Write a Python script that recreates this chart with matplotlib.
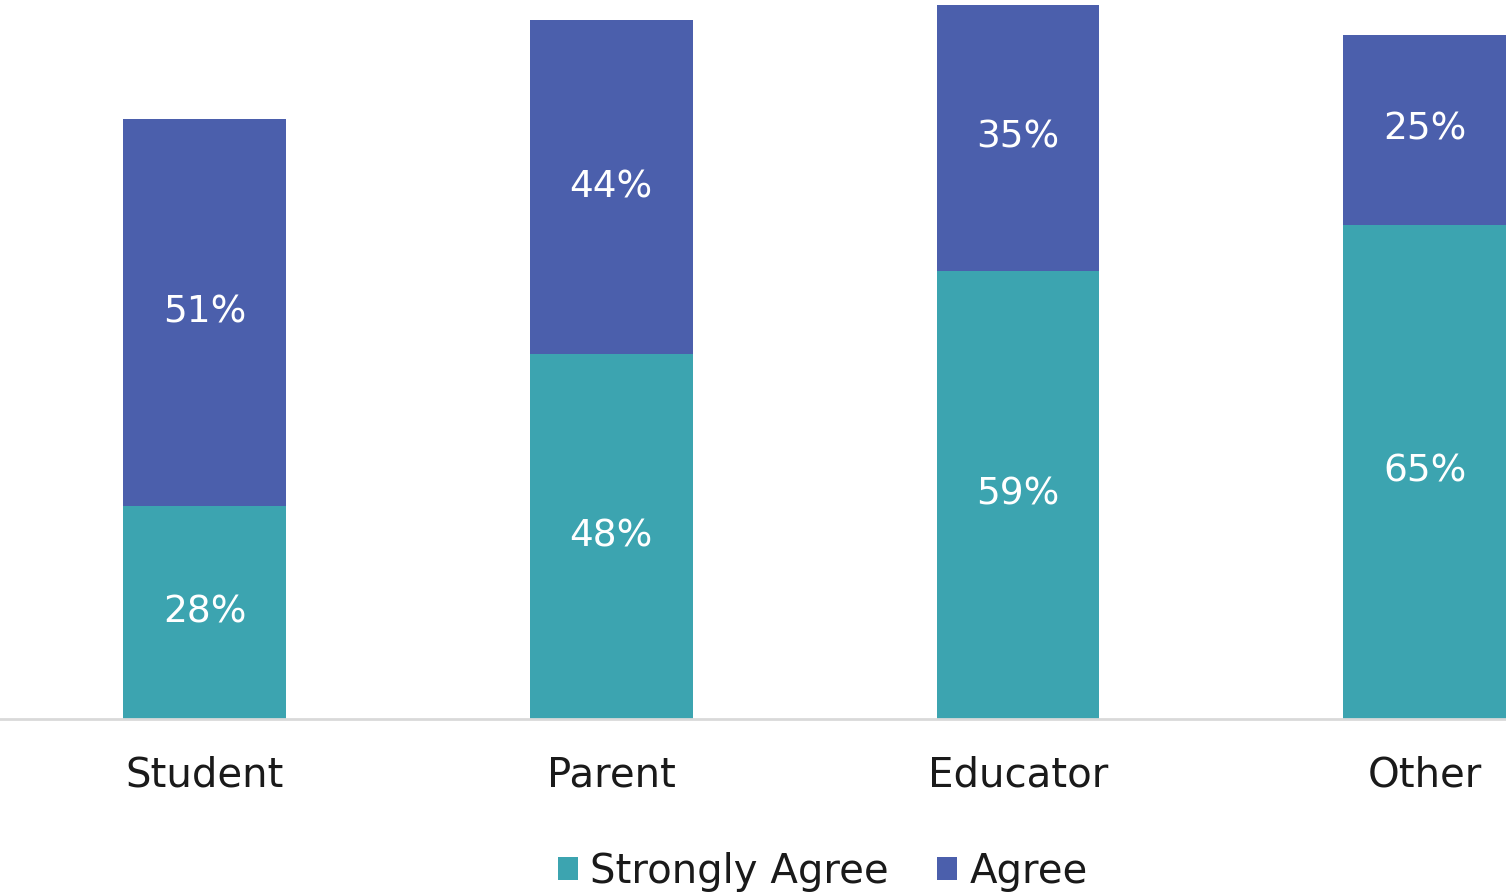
import matplotlib
matplotlib.use("Agg")
import matplotlib.pyplot as plt
import numpy as np

categories = ["Student", "Parent", "Educator", "Other"]
strongly_agree = [28, 48, 59, 65]
agree = [51, 44, 35, 25]
series_names = ["Strongly Agree", "Agree"]

teal = "#3CA4B0"
blue = "#4B5FAC"

plt.rcParams['font.family'] = ['DejaVu Sans']

fig = plt.figure(figsize=(15.06, 8.93), dpi=100)
ax = fig.add_axes([0, 1 - 719/893, 1, 719/893])

x = np.arange(len(categories))
w = 0.4
b1 = ax.bar(x, strongly_agree, w, color=teal, label=series_names[0])
b2 = ax.bar(x, agree, w, bottom=strongly_agree, color=blue, label=series_names[1])

for vals, bottoms in [(strongly_agree, [0]*4), (agree, strongly_agree)]:
    for xi, v, b in zip(x, vals, bottoms):
        ax.text(xi, b + v/2, f"{v}%", ha="center", va="center", color="white",
                fontsize=27, fontweight="medium")

ax.set_xlim(-0.503, 3.2)
ax.set_ylim(0, 719/7.6)
for s in ["top", "right", "left"]:
    ax.spines[s].set_visible(False)
ax.spines["bottom"].set_color("#D9D9D9")
ax.spines["bottom"].set_linewidth(2)
ax.set_yticks([])
ax.set_xticks(x)
ax.set_xticklabels(categories, fontsize=29, color="#1a1a1a")
ax.tick_params(axis="x", length=0, pad=26)

fig.legend(handles=[b1, b2], labels=series_names, loc="center",
           bbox_to_anchor=(823/1506, 1 - 872/893), ncol=2, frameon=False,
           fontsize=29, handlelength=0.5, handleheight=0.5, handletextpad=0.3,
           columnspacing=1.2, labelcolor="#1a1a1a")

fig.savefig("out.png", dpi=100)
